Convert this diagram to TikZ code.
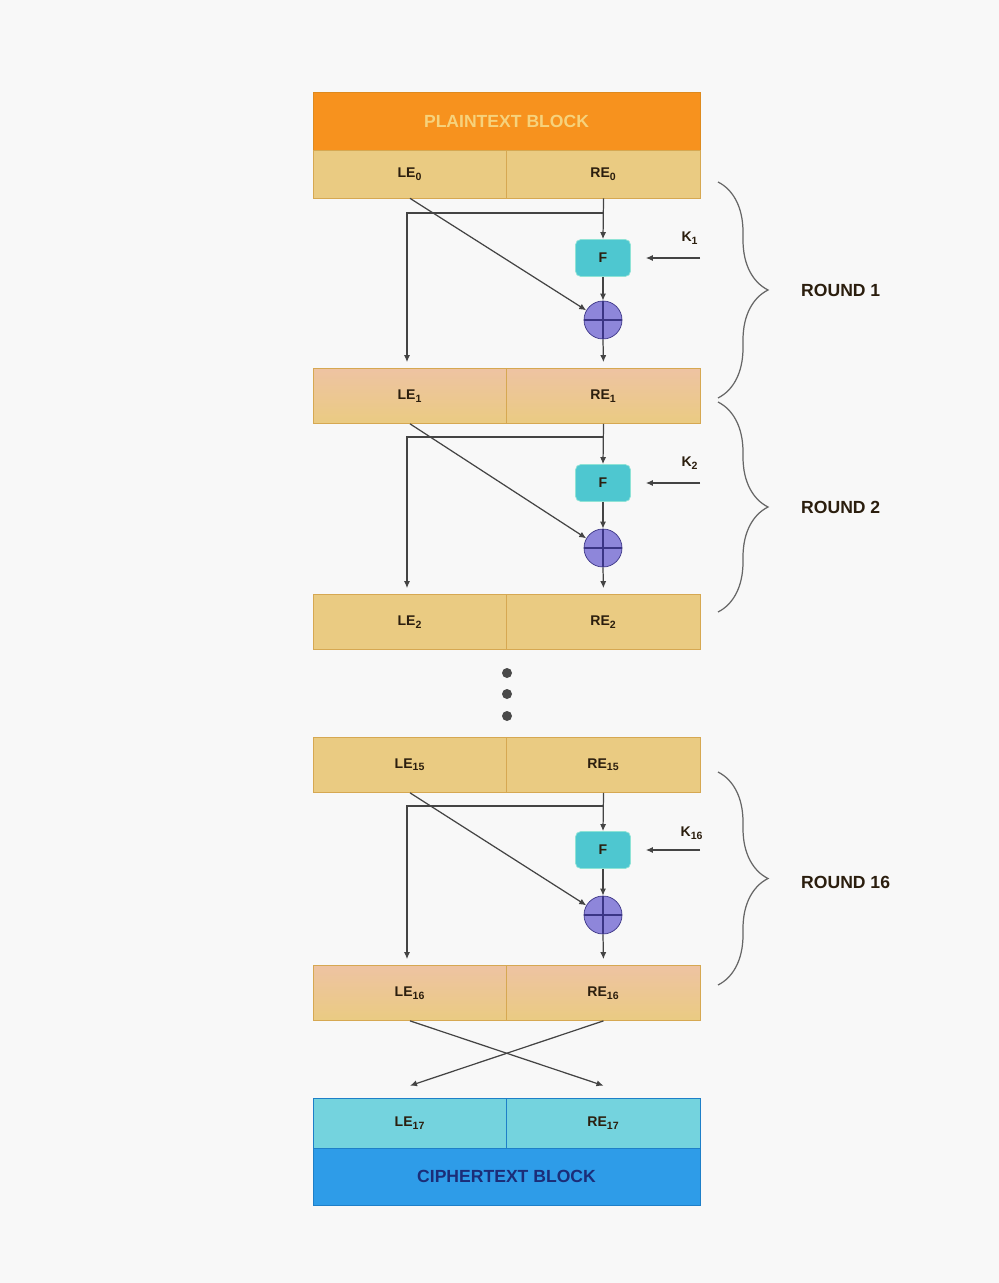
\documentclass[tikz,border=0pt]{standalone}
\usepackage{fontspec}
\setmainfont{Liberation Sans}
\usetikzlibrary{arrows.meta,decorations.pathreplacing}

\definecolor{plainorange}{HTML}{F7921E}
\definecolor{plainedge}{HTML}{DE8A1E}
\definecolor{plaintext}{HTML}{F6D27C}
\definecolor{rowgold}{HTML}{EACB82}
\definecolor{rowpeach}{HTML}{EEC3A2}
\definecolor{rowedge}{HTML}{D6A852}
\definecolor{rowcyan}{HTML}{74D3DE}
\definecolor{cipherblue}{HTML}{2E9CE8}
\definecolor{cipheredge}{HTML}{1E7FC8}
\definecolor{ciphertext}{HTML}{1B2D78}
\definecolor{labeltext}{HTML}{2B1E0E}
\definecolor{fcyan}{HTML}{4EC7D0}
\definecolor{fedge}{HTML}{8FE3D6}
\definecolor{xorpurple}{HTML}{8E86DA}
\definecolor{xoredge}{HTML}{3B3585}
\definecolor{linegray}{HTML}{444444}
\definecolor{bracegray}{HTML}{666666}
\definecolor{dotgray}{HTML}{4A4A4A}
\definecolor{paper}{HTML}{F8F8F8}

\begin{document}
\begin{tikzpicture}[x=0.02cm, y=-0.02cm,
    half/.style={draw=rowedge, minimum width=3.87cm, minimum height=1.1cm, inner sep=0pt, font=\bfseries\footnotesize, text=labeltext},
    gold/.style={half, fill=rowgold},
    peach/.style={half, top color=rowpeach, bottom color=rowgold},
    cyanrow/.style={half, draw=cipheredge, fill=rowcyan, minimum height=1cm},
    wide/.style={minimum width=7.74cm, minimum height=1.16cm, inner sep=0pt, font=\bfseries},
    fbox/.style={draw=fedge, fill=fcyan, rounded corners=3pt, minimum width=1.1cm, minimum height=0.74cm, font=\bfseries\footnotesize, text=labeltext},
    xor/.style={circle, draw=xoredge, fill=xorpurple, minimum size=0.76cm, inner sep=0pt,
        path picture={\draw[xoredge, line width=0.6pt] (path picture bounding box.north) -- (path picture bounding box.south)
            (path picture bounding box.west) -- (path picture bounding box.east);}},
    arrow/.style={-{Latex[length=4pt,width=3.5pt]}, draw=linegray, line width=0.7pt},
    keylabel/.style={font=\bfseries\footnotesize, text=labeltext},
    rlabel/.style={font=\bfseries, anchor=west, text=labeltext},
    rbrace/.style={decorate, decoration={brace, amplitude=1cm}, draw=bracegray, line width=0.7pt},
    dot/.style={circle, fill=dotgray, minimum size=0.2cm, inner sep=0pt}
]
\fill[paper] (0,0) rectangle (999,1283);
\useasboundingbox (0,0) rectangle (999,1283);

% blocks
\node[wide, fill=plainorange, draw=plainedge, text=plaintext] at (506.5,121) (plain) {PLAINTEXT BLOCK};
\node[gold, minimum height=0.96cm] at (410,174) (le0) {LE\textsubscript{0}};
\node[gold, minimum height=0.96cm] at (603.5,174) (re0) {RE\textsubscript{0}};

\node[peach] at (410,396) (le1) {LE\textsubscript{1}};
\node[peach] at (603.5,396) (re1) {RE\textsubscript{1}};

\node[gold] at (410,622) (le2) {LE\textsubscript{2}};
\node[gold] at (603.5,622) (re2) {RE\textsubscript{2}};

\node[dot] at (507,673) (d1) {};
\node[dot] at (507,694) (d2) {};
\node[dot] at (507,716) (d3) {};

\node[gold] at (410,765) (le15) {LE\textsubscript{15}};
\node[gold] at (603.5,765) (re15) {RE\textsubscript{15}};

\node[peach] at (410,993) (le16) {LE\textsubscript{16}};
\node[peach] at (603.5,993) (re16) {RE\textsubscript{16}};

\node[cyanrow] at (410,1123) (le17) {LE\textsubscript{17}};
\node[cyanrow] at (603.5,1123) (re17) {RE\textsubscript{17}};
\node[wide, fill=cipherblue, draw=cipheredge, text=ciphertext, minimum height=1.14cm] at (506.5,1176.5) (cipher) {CIPHERTEXT BLOCK};

% round 1
\node[fbox] at (603,258) (f1) {F};
\node[xor] at (603,320) (x1) {};
\coordinate (b1) at (603,213);
\coordinate (k1) at (700,258);
\node[keylabel] at (690,238) (k1lab) {K\textsubscript{1}};
\draw[arrow] (re0.south) -- (f1.north);
\draw[arrow] (b1) -| ([xshift=-0.06cm]le1.north) [shorten >=0.12cm];
\draw[arrow] (le0.south) -- (x1.150);
\draw[arrow, shorten >=0.3cm] (k1) -- (f1.east);
\draw[arrow] (f1.south) -- (x1.north);
\draw[arrow, shorten >=0.12cm] (x1.south) -- (re1.north);

% round 2
\node[fbox] at (603,483) (f2) {F};
\node[xor] at (603,548) (x2) {};
\coordinate (b2) at (603,437);
\coordinate (k2) at (700,483);
\node[keylabel] at (690,463) (k2lab) {K\textsubscript{2}};
\draw[arrow] (re1.south) -- (f2.north);
\draw[arrow] (b2) -| ([xshift=-0.06cm]le2.north) [shorten >=0.12cm];
\draw[arrow] (le1.south) -- (x2.150);
\draw[arrow, shorten >=0.3cm] (k2) -- (f2.east);
\draw[arrow] (f2.south) -- (x2.north);
\draw[arrow, shorten >=0.12cm] (x2.south) -- (re2.north);

% round 16
\node[fbox] at (603,850) (f16) {F};
\node[xor] at (603,915) (x16) {};
\coordinate (b16) at (603,806);
\coordinate (k16) at (700,850);
\node[keylabel] at (692,833) (k16lab) {K\textsubscript{16}};
\draw[arrow] (re15.south) -- (f16.north);
\draw[arrow] (b16) -| ([xshift=-0.06cm]le16.north) [shorten >=0.12cm];
\draw[arrow] (le15.south) -- (x16.150);
\draw[arrow, shorten >=0.3cm] (k16) -- (f16.east);
\draw[arrow] (f16.south) -- (x16.north);
\draw[arrow, shorten >=0.12cm] (x16.south) -- (re16.north);

% final swap
\draw[arrow] (le16.south) -- ([yshift=0.24cm]re17.north);
\draw[arrow] (re16.south) -- ([yshift=0.24cm]le17.north);

% rounds
\draw[rbrace] (718,182) -- (718,398);
\draw[rbrace] (718,402) -- (718,612);
\draw[rbrace] (718,772) -- (718,985);
\node[rlabel] at (795,290) (r1) {ROUND 1};
\node[rlabel] at (795,507) (r2) {ROUND 2};
\node[rlabel] at (795,882) (r16) {ROUND 16};
\end{tikzpicture}
\end{document}
